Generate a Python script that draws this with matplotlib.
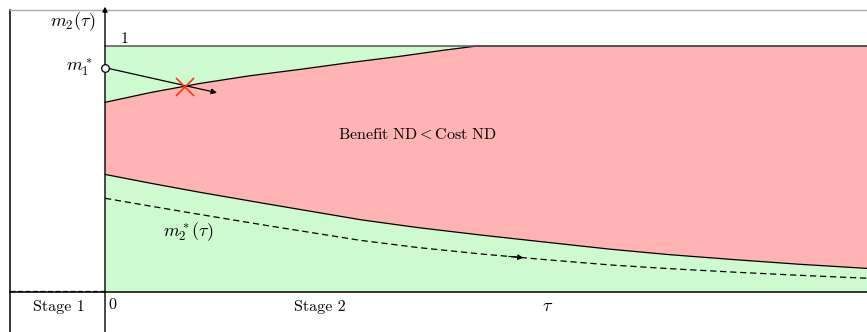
import numpy as np
import matplotlib.pyplot as plt

plt.rcParams['mathtext.fontset'] = 'cm'
plt.rcParams['font.family'] = ['cmr10', 'DejaVu Serif']
plt.rcParams['axes.unicode_minus'] = False

# values (tau scaled to 0..1)
tau_up = [0.0, 0.06, 0.125, 0.19, 0.256, 0.32, 0.387, 0.44, 0.488, 1.0]
upper = [0.771, 0.811, 0.848, 0.879, 0.905, 0.932, 0.958, 0.981, 1.0, 1.0]

tau_lo = [0.0, 0.06, 0.125, 0.213, 0.335, 0.41, 0.492, 0.58, 0.663, 0.74, 0.824, 0.91, 1.0]
lower = [0.478, 0.442, 0.405, 0.358, 0.294, 0.262, 0.232, 0.202, 0.174, 0.152, 0.132, 0.113, 0.096]

tau_star = [0.0, 0.06, 0.125, 0.213, 0.335, 0.41, 0.492, 0.58, 0.663, 0.74, 0.824, 0.91, 1.0]
m2_star = [0.381, 0.349, 0.315, 0.270, 0.210, 0.181, 0.155, 0.131, 0.110, 0.095, 0.081, 0.068, 0.056]

m1_star = 0.912
arrow_end = (0.147, 0.810)
cross_pt = (0.105, 0.835)

green = '#cefacf'
red = '#ffb3b3'

fig = plt.figure(figsize=(8.67, 3.32), dpi=100)
ax = fig.add_axes([0, 0, 1, 1])
ax.set_xlim(-105 / 762, 1.0)
ax.set_ylim(-40 / 246, 292 / 246)
ax.axis('off')

# regions
ax.fill_between([0, 1], 0, 1, color=green, lw=0)
ax.fill(tau_up + tau_lo[::-1], upper + lower[::-1], color=red, lw=0)

# boundaries
lw = 0.9
ax.plot(tau_up, upper, color='black', lw=lw)
ax.plot(tau_lo, lower, color='black', lw=lw)
ax.plot(tau_star, m2_star, color='black', lw=lw, ls=(0, (5, 3)))
t0, t1 = 0.53, 0.549
ax.annotate('', xy=(t1, np.interp(t1, tau_star, m2_star)),
            xytext=(t0, np.interp(t0, tau_star, m2_star)),
            arrowprops=dict(arrowstyle='-|>', color='black', lw=0.8,
                            mutation_scale=8, shrinkA=0, shrinkB=0))
ax.plot([0, 1], [1, 1], color='#555555', lw=1.1)

# frame and axes
ax.plot([-0.1247, -0.1247], [-0.2, 1.145], color='black', lw=1.1)
ax.plot([-0.1247, 1.0], [1.145, 1.145], color='#aaaaaa', lw=1.0)
ax.plot([-0.1247, 1.0], [0, 0], color='black', lw=1.1)
ax.plot([-0.1247, 0], [0.006, 0.006], color='black', lw=0.9, ls=(0, (4, 2)))
ax.annotate('', xy=(0, 1.16), xytext=(0, -0.2),
            arrowprops=dict(arrowstyle='-|>', color='black', lw=1.0,
                            mutation_scale=7, shrinkA=0, shrinkB=0))

# m1* trajectory
ax.plot([0], [m1_star], marker='o', ms=5.5, mfc='white', mec='black', mew=0.9,
        zorder=5)
ax.annotate('', xy=arrow_end, xytext=(0, m1_star),
            arrowprops=dict(arrowstyle='-|>', color='black', lw=0.9,
                            mutation_scale=8, shrinkA=3, shrinkB=0))
ax.plot([cross_pt[0]], [cross_pt[1]], marker='x', ms=13, color='#ff3311',
        mew=1.2, zorder=6)

# labels
ax.text(-0.013, 1.098, r'$m_2(\tau)$', ha='right', va='center', fontsize=13)
ax.text(0.02, 1.027, '1', ha='left', va='center', fontsize=11)
ax.text(-0.016, m1_star + 0.003, r'$m_1^*$', ha='right', va='center', fontsize=13)
ax.text(0.41, 0.64, r'$\mathrm{Benefit\ ND} < \mathrm{Cost\ ND}$', ha='center',
        va='center', fontsize=11.5)
ax.text(0.109, 0.244, r'$m_2^*(\tau)$', ha='center', va='center', fontsize=13)
ax.text(-0.06, -0.06, 'Stage 1', ha='center', va='center', fontsize=11.5)
ax.text(0.004, -0.052, '0', ha='left', va='center', fontsize=11.5)
ax.text(0.282, -0.06, 'Stage 2', ha='center', va='center', fontsize=11.5)
ax.text(0.581, -0.058, r'$\tau$', ha='center', va='center', fontsize=13)

fig.savefig('out.png', dpi=100)
